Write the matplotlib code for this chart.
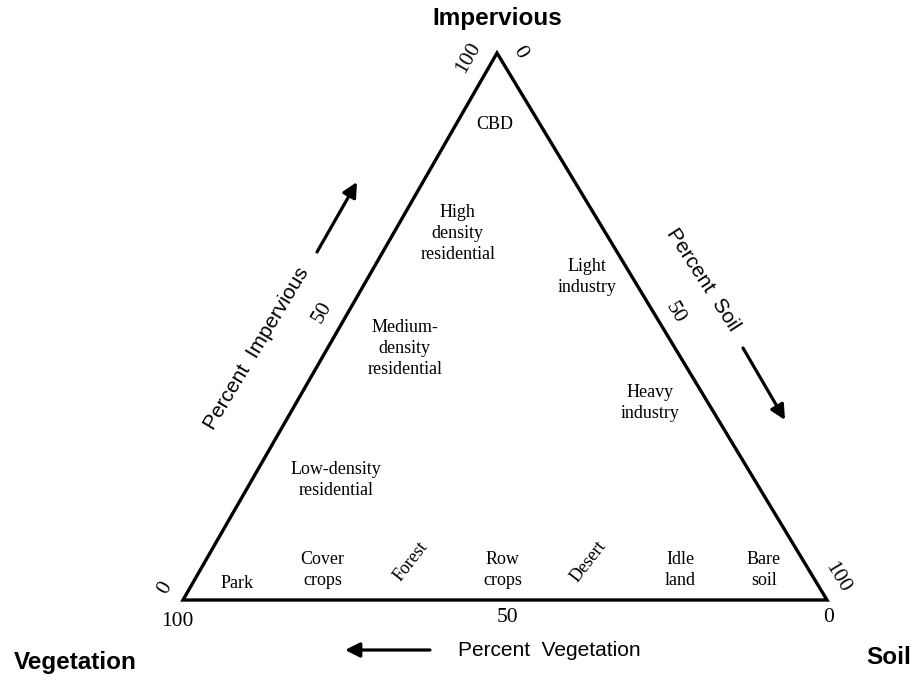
import numpy as np
import matplotlib.pyplot as plt
from matplotlib.patches import Polygon

# corner names (vegetation left, soil right, impervious top)
corners = ['Vegetation', 'Soil', 'Impervious']

# land cover classes, rough composition in percent (veg, soil, imp)
classes = ['CBD', 'High\ndensity\nresidential', 'Light\nindustry',
           'Medium-\ndensity\nresidential', 'Heavy\nindustry',
           'Low-density\nresidential', 'Park', 'Cover\ncrops', 'Forest',
           'Row\ncrops', 'Desert', 'Idle\nland', 'Bare\nsoil']
veg = [7, 23, 7, 42, 9, 65, 90, 75.5, 61, 47.5, 33.5, 20, 7]
soil = [6, 10, 34, 12, 55, 13, 7, 19, 32, 47, 59.5, 74.5, 87.5]
imp = [87, 67, 59, 46, 36, 22, 3, 5.5, 7, 5.5, 7, 5.5, 5.5]
tilted = ['Forest', 'Desert']

ticks = [0, 50, 100]

serif = 'Liberation Serif'
sans = 'Liberation Sans'

# triangle corners in axes units (veg, soil, imp)
V = np.array([0.0, 0.0])
S = np.array([1.0, 0.0])
I = np.array([0.4876, 0.8494])


def tern(v, s, i):
    tot = v + s + i
    return (v * V + s * S + i * I) / tot


def px(x, y):
    # figure pixel -> axes data
    return ((x - 183) / 644, (600 - y) / 644)


def off(dx, dy):
    # pixel offset -> points
    return (dx * 0.72, -dy * 0.72)


fig = plt.figure(figsize=(9.19, 6.8), dpi=100)
ax = fig.add_axes([0, 0, 1, 1])
ax.set_xlim(-183 / 644, 736 / 644)
ax.set_ylim(-80 / 644, 600 / 644)
ax.axis('off')

tri = Polygon([V, S, I], closed=True, fill=False, lw=2.4, ec='black',
              joinstyle='miter')
ax.add_patch(tri)

# class labels
for name, v, s, i in zip(classes, veg, soil, imp):
    x, y = tern(v, s, i)
    rot = 52 if name in tilted else 0
    ax.text(x, y, name, ha='center', va='center', fontsize=13,
            family=serif, rotation=rot, linespacing=1.3)

# tick labels along the three edges
bottom_off = {100: (-6, 21), 50: (2, 17), 0: (2, 18)}
for t in ticks:
    x, y = tern(t, 100 - t, 0)
    ax.annotate(str(t), (x, y), xytext=off(*bottom_off[t]),
                textcoords='offset points', ha='center', va='center',
                fontsize=15.5, family=serif)

left_off = {0: (-18, -12), 50: (-18, -14), 100: (-29, 5)}
for t in ticks:
    x, y = tern(100 - t, 0, t)
    ax.annotate(str(t), (x, y), xytext=off(*left_off[t]),
                textcoords='offset points', ha='center', va='center',
                fontsize=15.5, family=serif, rotation=60)

right_off = {0: (23, -1), 50: (13, -14), 100: (10, -22)}
for t in ticks:
    x, y = tern(0, t, 100 - t)
    ax.annotate(str(t), (x, y), xytext=off(*right_off[t]),
                textcoords='offset points', ha='center', va='center',
                fontsize=15.5, family=serif, rotation=-59)

# axis titles and arrows
ax.text(*px(257, 348), 'Percent  Impervious', rotation=59, ha='center',
        va='center', fontsize=15, family=sans)
ax.text(*px(703, 280), 'Percent  Soil', rotation=-57, ha='center',
        va='center', fontsize=15, family=sans)
ax.text(*px(549, 650), 'Percent  Vegetation', ha='center', va='center',
        fontsize=15, family=sans)

arrow = dict(arrowstyle='-|>', lw=2.3, color='black', mutation_scale=22,
             shrinkA=0, shrinkB=0)
ax.annotate('', xy=px(357, 182), xytext=px(317, 252), arrowprops=arrow)
ax.annotate('', xy=px(785, 420), xytext=px(743, 348), arrowprops=arrow)
ax.annotate('', xy=px(345, 650), xytext=px(430, 650), arrowprops=arrow)

# corner names
ax.text(*px(497, 18), corners[2], ha='center', va='center', fontsize=17.5,
        fontweight='bold', family=sans)
ax.text(*px(75, 662), corners[0], ha='center', va='center', fontsize=17.5,
        fontweight='bold', family=sans)
ax.text(*px(889, 657), corners[1], ha='center', va='center', fontsize=17.5,
        fontweight='bold', family=sans)

fig.savefig('out.png', dpi=100)
